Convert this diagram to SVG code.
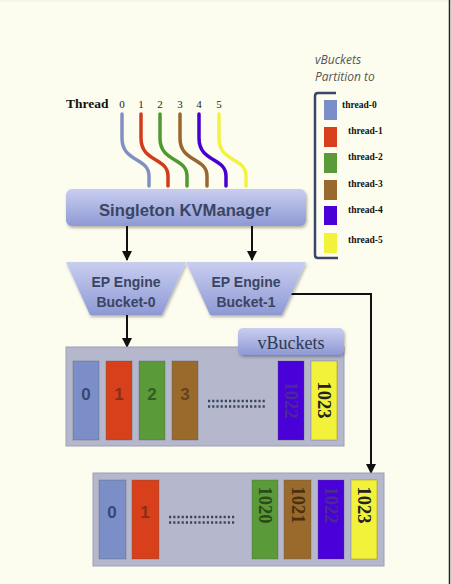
<svg xmlns="http://www.w3.org/2000/svg" width="451" height="584" viewBox="0 0 451 584">
<defs>
<linearGradient id="gBox" x1="0" y1="0" x2="0" y2="1">
<stop offset="0" stop-color="#c9cef0"/>
<stop offset="1" stop-color="#8e99d4"/>
</linearGradient>
<filter id="sh" x="-10%" y="-10%" width="120%" height="130%">
<feDropShadow dx="1" dy="2" stdDeviation="1.5" flood-color="#000" flood-opacity="0.3"/>
</filter>
<marker id="ah" viewBox="0 0 10 10" refX="9" refY="5" markerWidth="10" markerHeight="10" markerUnits="userSpaceOnUse" orient="auto">
<path d="M0,0 L10,5 L0,10 z" fill="#111"/>
</marker>
<style>
.title{font-family:"Liberation Sans",Arial,sans-serif;font-weight:bold;fill:#3a4562}
.ser{font-family:"Liberation Serif","Times New Roman",serif}
.hdr{font-family:"Open Sans","Liberation Sans",sans-serif;font-style:italic;font-size:12px;fill:#555}
.leg{font-family:"Liberation Serif",serif;font-weight:bold;font-size:9.5px;fill:#111}
.wire{fill:none;stroke-width:3.5;stroke-linecap:round}
.conn{fill:none;stroke:#111;stroke-width:2}
.tray{fill:#b5b8cd;stroke:#9c9fb6;stroke-width:1}
.bar{stroke-width:0.8;stroke-opacity:0.4;stroke:#555}
.dig{font-family:"Liberation Sans",sans-serif;font-weight:bold;font-size:17px;text-anchor:middle}
.rot{font-family:"Liberation Serif",serif;font-weight:bold;font-size:18.5px;text-anchor:middle;dominant-baseline:central}
.dots{stroke:#3a4560;stroke-width:2.5;stroke-dasharray:2.2 2}
</style>
</defs>
<rect x="0" y="0" width="451" height="584" fill="#fdfdef"/>
<rect x="0" y="0" width="451" height="2" fill="#f4f4ec"/>
<line x1="449.5" y1="0" x2="449.5" y2="584" stroke="#222" stroke-width="1.5"/>

<g id="threads">
<text class="ser" x="66" y="108" font-size="13.5" font-weight="bold" fill="#111">Thread</text>
<g class="ser" font-size="11" fill="#222" text-anchor="middle">
<text x="122" y="108">0</text><text x="141" y="108">1</text><text x="160" y="108">2</text>
<text x="180" y="108">3</text><text x="199" y="108">4</text><text x="219" y="108">5</text>
</g>
<path class="wire" stroke="#8190c2" d="M122,114 V138 C122,163 149,157 149,176 V186"/>
<path class="wire" stroke="#d23b1b" d="M141,114 V138 C141,163 168,157 168,176 V186"/>
<path class="wire" stroke="#4f9a30" d="M160,114 V138 C160,163 187,157 187,176 V186"/>
<path class="wire" stroke="#9a652e" d="M180,114 V138 C180,163 207,157 207,176 V186"/>
<path class="wire" stroke="#4700d2" d="M199,114 V138 C199,163 226,157 226,176 V186"/>
<path class="wire" stroke="#f2f244" d="M219,114 V138 C219,163 246,157 246,176 V186"/>
</g>

<g id="legend">
<text class="hdr" x="315" y="64">vBuckets</text>
<text class="hdr" x="315" y="81">Partition to</text>
<path d="M336,93 H318 Q315,93 315,96 V255 Q315,258 318,258 H338" fill="none" stroke="#3a4668" stroke-width="2.5"/>
<rect x="324" y="100" width="13" height="20" fill="#7b8ec8"/>
<rect x="324" y="127" width="13" height="20" fill="#d8401c"/>
<rect x="324" y="153" width="13" height="20" fill="#5a9a38"/>
<rect x="324" y="180" width="13" height="20" fill="#9a6a2c"/>
<rect x="324" y="206" width="13" height="19" fill="#4a00d8"/>
<rect x="324" y="233" width="13" height="20" fill="#f2f23a"/>
<text class="leg" x="342" y="108">thread-0</text>
<text class="leg" x="348" y="134">thread-1</text>
<text class="leg" x="348" y="160">thread-2</text>
<text class="leg" x="348" y="187">thread-3</text>
<text class="leg" x="348" y="213">thread-4</text>
<text class="leg" x="348" y="243">thread-5</text>
</g>

<g id="connectors">
<line class="conn" x1="127" y1="226" x2="127" y2="260" marker-end="url(#ah)"/>
<line class="conn" x1="252" y1="226" x2="252" y2="260" marker-end="url(#ah)"/>
<line class="conn" x1="127" y1="315" x2="127" y2="347" marker-end="url(#ah)"/>
<polyline class="conn" points="291,294 371,294 371,473" marker-end="url(#ah)"/>
</g>

<g id="kvmanager">
<rect x="66" y="189" width="240" height="37" rx="6" fill="url(#gBox)" filter="url(#sh)"/>
<text class="title" x="185" y="216" font-size="17" text-anchor="middle" textLength="172" lengthAdjust="spacingAndGlyphs">Singleton KVManager</text>
</g>

<g id="bucket0">
<polygon points="66,262 186,262 162,315 90,315" fill="url(#gBox)" filter="url(#sh)"/>
<text class="title" x="126" y="287" font-size="14" text-anchor="middle">EP Engine</text>
<text class="title" x="126" y="307" font-size="14" text-anchor="middle">Bucket-0</text>
</g>

<g id="bucket1">
<polygon points="186,262 306,262 282,315 210,315" fill="url(#gBox)" filter="url(#sh)"/>
<text class="title" x="246" y="287" font-size="14" text-anchor="middle">EP Engine</text>
<text class="title" x="246" y="307" font-size="14" text-anchor="middle">Bucket-1</text>
</g>

<g id="vbuckets0">
<rect class="tray" x="66" y="347" width="278" height="99"/>
<rect x="238" y="328" width="106" height="27" rx="5" fill="url(#gBox)" filter="url(#sh)"/>
<text class="ser" x="291" y="349" font-size="18" fill="#2d3a52" text-anchor="middle">vBuckets</text>
<rect class="bar" x="73" y="361" width="26" height="79" fill="#7b8ec8"/>
<rect class="bar" x="106" y="361" width="26" height="79" fill="#d8401c"/>
<rect class="bar" x="139" y="361" width="26" height="79" fill="#5a9a38"/>
<rect class="bar" x="172" y="361" width="26" height="79" fill="#9a6a2c"/>
<rect class="bar" x="278" y="361" width="26" height="79" fill="#4a00d8"/>
<rect class="bar" x="311" y="361" width="26" height="79" fill="#f2f23a"/>
<text class="dig" x="86" y="400" fill="#3b4672">0</text>
<text class="dig" x="119" y="400" fill="#8a2e18">1</text>
<text class="dig" x="152" y="400" fill="#335d22">2</text>
<text class="dig" x="185" y="400" fill="#654320">3</text>
<line class="dots" x1="208" y1="401" x2="266" y2="401"/>
<line class="dots" x1="208" y1="406.5" x2="266" y2="406.5"/>
<text class="rot" transform="translate(291,400) rotate(90)" fill="#4a2a92">1022</text>
<text class="rot" transform="translate(324,400) rotate(90)" fill="#222">1023</text>
</g>

<g id="vbuckets1">
<rect class="tray" x="93" y="473" width="291" height="93"/>
<rect class="bar" x="99" y="480" width="27" height="79" fill="#7b8ec8"/>
<rect class="bar" x="132" y="480" width="27" height="79" fill="#d8401c"/>
<rect class="bar" x="252" y="480" width="26" height="79" fill="#5a9a38"/>
<rect class="bar" x="284" y="480" width="27" height="79" fill="#9a6a2c"/>
<rect class="bar" x="318" y="480" width="26" height="79" fill="#4a00d8"/>
<rect class="bar" x="351" y="480" width="26" height="79" fill="#f2f23a"/>
<text class="dig" x="112" y="518" fill="#3b4672">0</text>
<text class="dig" x="145" y="518" fill="#8a2e18">1</text>
<line class="dots" x1="169" y1="517" x2="236" y2="517"/>
<line class="dots" x1="169" y1="522.5" x2="236" y2="522.5"/>
<text class="rot" transform="translate(265,505) rotate(90)" fill="#2c4a1a">1020</text>
<text class="rot" transform="translate(297.5,505) rotate(90)" fill="#4a3010">1021</text>
<text class="rot" transform="translate(331,505) rotate(90)" fill="#4a2a92">1022</text>
<text class="rot" transform="translate(364,505) rotate(90)" fill="#222">1023</text>
</g>
</svg>
